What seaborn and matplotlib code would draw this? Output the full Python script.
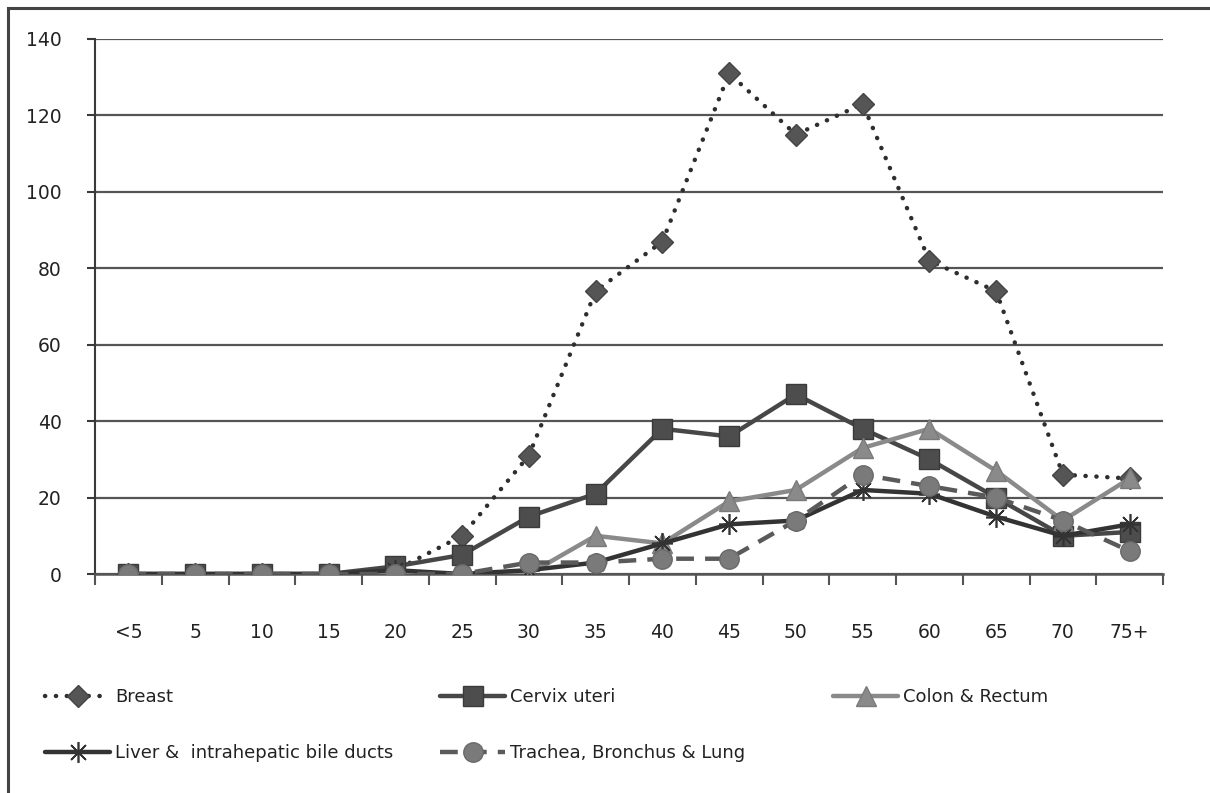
import numpy as np
import pandas as pd
import matplotlib
matplotlib.use("Agg")
import matplotlib.pyplot as plt
from matplotlib.lines import Line2D
from matplotlib.patches import Rectangle
import seaborn as sns

# age groups and counts per cancer site
age_groups = ["<5", "5", "10", "15", "20", "25", "30", "35", "40", "45",
              "50", "55", "60", "65", "70", "75+"]
breast = [0, 0, 0, 0, 1, 10, 31, 74, 87, 131, 115, 123, 82, 74, 26, 25]
cervix = [0, 0, 0, 0, 2, 5, 15, 21, 38, 36, 47, 38, 30, 20, 10, 11]
colon = [0, 0, 0, 0, 0, 0, 0, 10, 8, 19, 22, 33, 38, 27, 14, 25]
liver = [0, 0, 0, 0, 1, 0, 1, 3, 8, 13, 14, 22, 21, 15, 10, 13]
lung = [0, 0, 0, 0, 0, 0, 3, 3, 4, 4, 14, 26, 23, 20, 14, 6]

series_names = ["Breast", "Cervix uteri", "Colon & Rectum",
                "Liver &  intrahepatic bile ducts", "Trachea, Bronchus & Lung"]
series_values = [breast, cervix, colon, liver, lung]

# line styling per series
styles = {
    "Breast": dict(color="#2e2e2e", mfc="#555555", mec="#444444", marker="D",
                   ms=11, lw=3.2, ls=(0, (0.05, 2.4)), dash_capstyle="round"),
    "Cervix uteri": dict(color="#474747", mfc="#4d4d4d", mec="#3a3a3a", marker="s",
                         ms=15, lw=3.2, ls="-"),
    "Colon & Rectum": dict(color="#8a8a8a", mfc="#8a8a8a", mec="#7a7a7a", marker="^",
                           ms=14, lw=3.2, ls="-"),
    "Liver &  intrahepatic bile ducts": dict(color="#333333", mfc="#333333", mec="#333333",
                                             marker=(8, 2, 0), ms=15, mew=1.2, lw=3.2, ls="-"),
    "Trachea, Bronchus & Lung": dict(color="#5a5a5a", mfc="#7a7a7a", mec="#6a6a6a", marker="o",
                                     ms=14, lw=3.2, ls=(0, (4, 2.5))),
}

sns.set_style("white")
plt.rcParams["font.family"] = ["DejaVu Sans"]

df = pd.DataFrame({"pos": np.arange(len(age_groups))})
for name, vals in zip(series_names, series_values):
    df[name] = vals

fig = plt.figure(figsize=(12.1, 7.93), dpi=100)
ax = fig.add_axes([95 / 1210, 1 - 574 / 793, (1163 - 95) / 1210, (574 - 39) / 793])

handles = {}
for name in series_names:
    st = styles[name]
    sns.lineplot(data=df, x="pos", y=name, ax=ax, color=st["color"], linewidth=st["lw"],
                 linestyle=st["ls"], marker=st["marker"], markersize=st["ms"],
                 markerfacecolor=st["mfc"], markeredgecolor=st["mec"],
                 markeredgewidth=st.get("mew", 1.0),
                 dash_capstyle=st.get("dash_capstyle", "butt"), zorder=3)
    handles[name] = Line2D([], [], color=st["color"], linewidth=st["lw"], linestyle=st["ls"],
                           marker=st["marker"], markersize=st["ms"],
                           markerfacecolor=st["mfc"], markeredgecolor=st["mec"],
                           markeredgewidth=st.get("mew", 1.0),
                           dash_capstyle=st.get("dash_capstyle", "butt"))

ax.set_xlim(-0.5, len(age_groups) - 0.5)
ax.set_ylim(0, 140)
ax.set_yticks(np.arange(0, 141, 20))
ax.set_xticks(np.arange(len(age_groups)))
ax.set_xticklabels(age_groups)
ax.set_xticks(np.arange(-0.5, len(age_groups), 1), minor=True)
ax.set_xlabel("")
ax.set_ylabel("")

ax.yaxis.grid(True, color="#555555", linewidth=1.6)
ax.set_axisbelow(True)
for side in ["top", "right"]:
    ax.spines[side].set_visible(False)
ax.spines["left"].set_color("#3a3a3a")
ax.spines["left"].set_linewidth(1.5)
ax.spines["bottom"].set_color("#555555")
ax.spines["bottom"].set_linewidth(1.8)

ax.tick_params(axis="y", which="major", left=True, length=6, width=1.5, color="#3a3a3a",
               pad=18, labelsize=13.5, labelcolor="#222222")
ax.tick_params(axis="x", which="major", bottom=True, length=0, pad=35,
               labelsize=13.5, labelcolor="#222222")
ax.tick_params(axis="x", which="minor", bottom=True, length=8, width=1.5, color="#555555")

# legend laid out as three columns below the plot
legend_cols = [
    (45 / 1210, ["Breast", "Liver &  intrahepatic bile ducts"]),
    (440 / 1210, ["Cervix uteri", "Trachea, Bronchus & Lung"]),
    (833 / 1210, ["Colon & Rectum"]),
]
for xpos, names in legend_cols:
    fig.legend([handles[n] for n in names], names, loc="upper left",
               bbox_to_anchor=(xpos, 1 - 688 / 793), frameon=False, fontsize=13,
               handlelength=3.6, handletextpad=0.3, labelspacing=2.1,
               borderpad=0, borderaxespad=0, labelcolor="#222222")

# outer frame of the original figure
fig.add_artist(Rectangle((8 / 1210, -0.1), 1.2, 1 - 8 / 793 + 0.1, transform=fig.transFigure,
                         fill=False, edgecolor="#444444", linewidth=2.2))

fig.savefig("out.png", dpi=100)
